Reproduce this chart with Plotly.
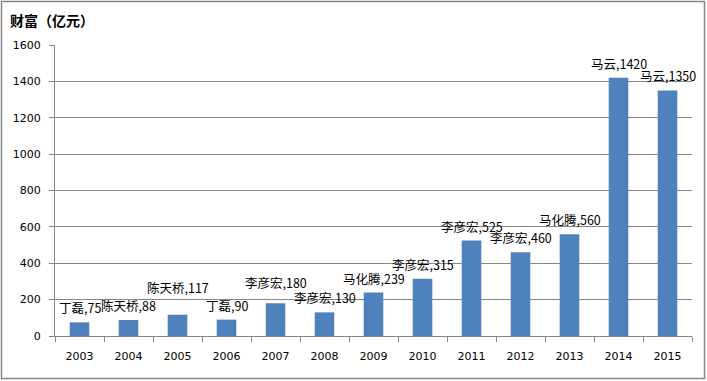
import plotly.graph_objects as go

years = ["2003", "2004", "2005", "2006", "2007", "2008", "2009",
         "2010", "2011", "2012", "2013", "2014", "2015"]
names = ["丁磊", "陈天桥", "陈天桥", "丁磊", "李彦宏", "李彦宏", "马化腾",
         "李彦宏", "李彦宏", "李彦宏", "马化腾", "马云", "马云"]
wealth = [75, 88, 117, 90, 180, 130, 239, 315, 525, 460, 560, 1420, 1350]
y_ticks = [0, 200, 400, 600, 800, 1000, 1200, 1400, 1600]
y_title = "财富（亿元）"

# label lift in pixels (style), some labels raised to avoid overlap
label_lift = {"2005": 16, "2007": 9}
default_lift = 3

ML, MR, MT, MB = 55, 15, 45, 45
W, H = 707, 381
pw, ph = W - ML - MR, H - MT - MB

fig = go.Figure()
fig.add_trace(go.Bar(x=years, y=wealth, marker_color="#4F81BD",
                     marker_line_width=0, hoverinfo="x+y"))

for i, (yr, nm, v) in enumerate(zip(years, names, wealth)):
    fig.add_annotation(x=i, y=v, text=f"{nm},{v}", showarrow=False,
                       yanchor="bottom", xanchor="center",
                       yshift=label_lift.get(yr, default_lift),
                       font=dict(family="Noto Sans CJK SC", size=12.5, color="#000000"))

fig.add_annotation(xref="paper", yref="paper",
                   x=(8 - ML) / pw, y=(H - MB - 20) / ph,
                   xanchor="left", yanchor="middle", showarrow=False,
                   text="<b>" + y_title + "</b>",
                   font=dict(family="Noto Sans CJK SC", size=14, color="#000000"))

fig.add_shape(type="rect", xref="paper", yref="paper",
              x0=(1.5 - ML) / pw, x1=(W - 2.5 - ML) / pw,
              y0=(H - MB - (H - 2.5)) / ph, y1=(H - MB - 1.5) / ph,
              line=dict(color="#868686", width=1.5), fillcolor="rgba(0,0,0,0)")

fig.update_layout(
    width=W, height=H,
    margin=dict(l=ML, r=MR, t=MT, b=MB, pad=0, autoexpand=False),
    plot_bgcolor="white", paper_bgcolor="white",
    bargap=0.6, showlegend=False,
    font=dict(family="DejaVu Sans", size=11, color="#000000"),
)
fig.update_xaxes(type="category", range=[-0.5, len(years) - 0.5], automargin=False,
                 showline=True, linecolor="#868686", linewidth=1,
                 ticks="outside", ticklen=5, tickcolor="#868686", tickson="boundaries",
                 showgrid=False, ticklabelstandoff=10, tickangle=0,
                 tickfont=dict(family="DejaVu Sans", size=11, color="#000000"))
fig.update_yaxes(range=[0, 1600], tickvals=y_ticks, automargin=False,
                 showline=True, linecolor="#868686",
                 linewidth=1, ticks="outside", ticklen=5, tickcolor="#868686",
                 showgrid=True, gridcolor="#868686", gridwidth=1, zeroline=False,
                 ticklabelstandoff=6,
                 tickfont=dict(family="DejaVu Sans", size=11, color="#000000"))

fig.write_html("out.html", config={"displayModeBar": False},
               post_script="document.body.style.margin='0';document.body.style.overflow='hidden';")
